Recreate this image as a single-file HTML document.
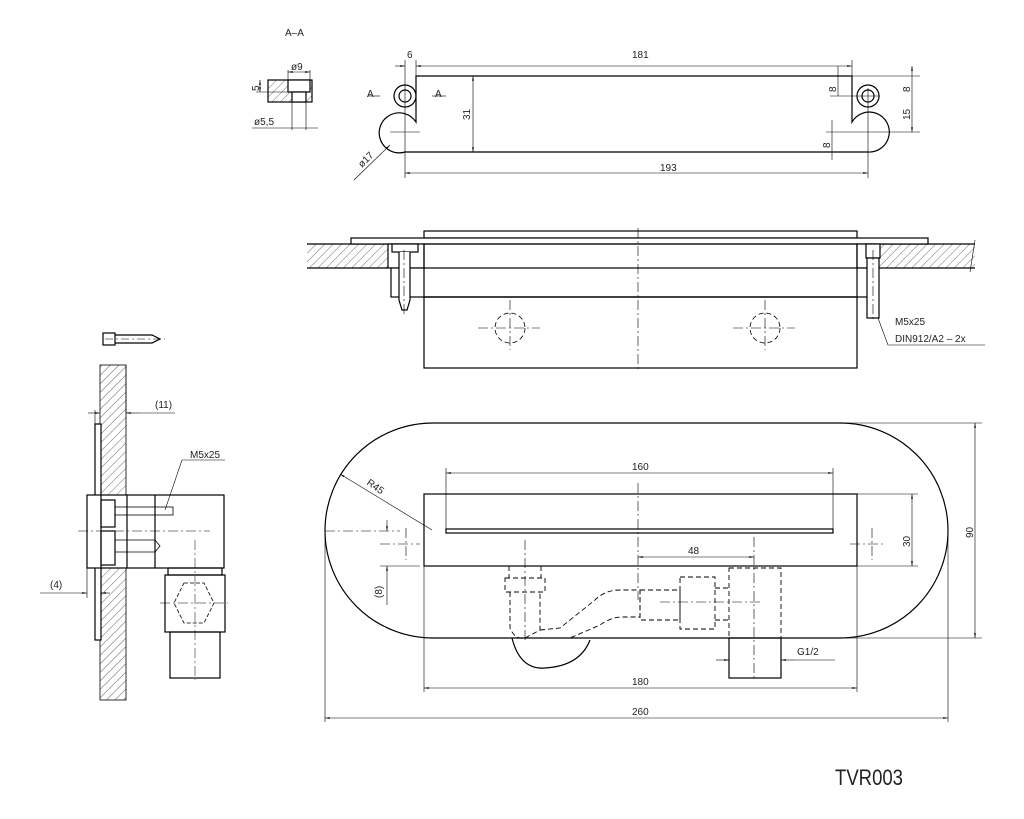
<!DOCTYPE html>
<html><head><meta charset="utf-8"><style>
html,body{margin:0;padding:0;background:#fff}
svg{display:block}
text{font-family:"Liberation Sans",sans-serif;font-size:10px;fill:#222}
</style></head><body>
<svg width="1024" height="819" viewBox="0 0 1024 819" xmlns="http://www.w3.org/2000/svg">
<defs>
<pattern id="h" width="6" height="6" patternUnits="userSpaceOnUse" patternTransform="rotate(45)">
<line x1="0" y1="0" x2="0" y2="6" stroke="#444" stroke-width="0.8"/></pattern>
<marker id="a" markerWidth="8" markerHeight="6" refX="8" refY="3" orient="auto-start-reverse"><path d="M0,1.5 L8,3 L0,4.5z" fill="#000"/></marker>
</defs>
<g stroke="#000" fill="none" stroke-width="1.2">

<!-- A-A section -->
<rect x="268" y="80" width="44" height="22" fill="url(#h)"/>
<rect x="288" y="80" width="22" height="12" fill="#fff"/>
<rect x="292" y="92" width="14" height="10" fill="#fff"/>
<g stroke-width="0.6">
<line x1="288" y1="72" x2="310" y2="72" marker-start="url(#a)" marker-end="url(#a)"/>
<line x1="288" y1="70" x2="288" y2="80"/><line x1="310" y1="70" x2="310" y2="80"/>
<line x1="260" y1="80" x2="260" y2="92" marker-start="url(#a)" marker-end="url(#a)"/>
<line x1="256" y1="92" x2="288" y2="92"/>
<line x1="252" y1="128" x2="318" y2="128"/>
<line x1="292" y1="102" x2="292" y2="130"/><line x1="306" y1="102" x2="306" y2="130"/>
</g>

<!-- top plate view -->
<path d="M416,76 L852,76 L852,122 A20,20 0 1 1 868,152 L405,152 A20,20 0 1 1 416,122 Z"/>
<circle cx="405" cy="96" r="11"/><circle cx="405" cy="96" r="6"/>
<circle cx="868" cy="96" r="11"/><circle cx="868" cy="96" r="6"/>
<g stroke-width="0.6">
<line x1="473" y1="76" x2="473" y2="152" marker-start="url(#a)" marker-end="url(#a)"/>
<line x1="416" y1="66" x2="852" y2="66" marker-start="url(#a)" marker-end="url(#a)"/>
<line x1="395" y1="66" x2="405" y2="66" marker-end="url(#a)"/>
<line x1="405" y1="60" x2="405" y2="178"/><line x1="416" y1="60" x2="416" y2="76"/>
<line x1="852" y1="60" x2="852" y2="76"/><line x1="868" y1="88" x2="868" y2="178"/>
<line x1="405" y1="173" x2="868" y2="173" marker-start="url(#a)" marker-end="url(#a)"/>
<line x1="368" y1="96" x2="380" y2="96"/><line x1="432" y1="96" x2="446" y2="96"/>
<line x1="390" y1="132" x2="420" y2="132"/>
<line x1="838" y1="66" x2="838" y2="96" /><line x1="830" y1="96" x2="880" y2="96"/>
<line x1="852" y1="76" x2="920" y2="76"/><line x1="868" y1="132" x2="920" y2="132"/>
<line x1="912" y1="66" x2="912" y2="132" marker-start="url(#a)" marker-end="url(#a)"/>
<line x1="832" y1="120" x2="832" y2="160"/><line x1="826" y1="132" x2="868" y2="132"/>
<line x1="354" y1="180" x2="390" y2="145" marker-end="url(#a)"/>
</g>

<!-- middle section view -->
<rect x="307" y="244" width="81" height="24" fill="url(#h)" stroke="none"/>
<rect x="858" y="244" width="117" height="24" fill="url(#h)" stroke="none"/>
<line x1="307" y1="244" x2="388" y2="244"/><line x1="307" y1="268" x2="388" y2="268"/>
<line x1="858" y1="244" x2="975" y2="244"/><line x1="858" y1="268" x2="975" y2="268"/>
<line x1="975" y1="240" x2="970" y2="272" stroke-width="0.6"/>
<rect x="424" y="231" width="433" height="7" fill="#fff"/>
<rect x="351" y="238" width="577" height="6" fill="#fff"/>
<rect x="388" y="244" width="36" height="24" fill="#fff"/>
<rect x="857" y="244" width="18" height="24" fill="#fff"/>
<rect x="391" y="268" width="487" height="29" fill="#fff"/>
<rect x="424" y="244" width="433" height="53"/>
<rect x="424" y="297" width="433" height="71"/>
<rect x="392" y="244" width="26" height="8" fill="#fff"/>
<path d="M399,252 V300 L402,310 H407 L410,300 V252" fill="#fff"/>
<rect x="866" y="244" width="14" height="14" fill="#fff"/>
<rect x="867" y="258" width="12" height="60" fill="#fff"/>
<g stroke-width="0.6" stroke-dasharray="10,3,2,3">
<line x1="638" y1="228" x2="638" y2="372"/>
<line x1="404" y1="250" x2="404" y2="314"/><line x1="873" y1="250" x2="873" y2="320"/>
<line x1="510" y1="300" x2="510" y2="350"/><line x1="478" y1="328" x2="540" y2="328"/>
<line x1="765" y1="300" x2="765" y2="350"/><line x1="733" y1="328" x2="795" y2="328"/>
</g>
<g stroke-width="0.8" stroke-dasharray="5,3">
<circle cx="510" cy="328" r="15"/><circle cx="765" cy="328" r="15"/></g>
<polyline points="878,318 888,345 985,345" stroke-width="0.6"/>

<!-- left side view -->
<rect x="103" y="333" width="12" height="12"/>
<path d="M115,335 H152 L160,339 L152,343 H115" />
<line x1="105" y1="339" x2="165" y2="339" stroke-width="0.5" stroke-dasharray="8,3,2,3"/>
<rect x="100" y="365" width="26" height="335" fill="url(#h)" stroke-width="0.8"/>
<rect x="95" y="424" width="6" height="216" fill="#fff"/>
<rect x="87" y="495" width="137" height="73" fill="#fff"/>
<line x1="101" y1="495" x2="101" y2="568"/>
<line x1="127" y1="495" x2="127" y2="568"/><line x1="155" y1="495" x2="155" y2="568"/>
<rect x="101" y="500" width="14" height="27"/><rect x="101" y="531" width="14" height="34"/>
<rect x="115" y="507" width="58" height="8" stroke-width="0.8"/>
<path d="M115,540 H155 L160,546 L155,552 H115" stroke-width="0.8"/>
<rect x="165" y="575" width="60" height="57"/>
<rect x="168" y="568" width="54" height="7"/>
<polygon points="184,583 204,583 214,603 204,623 184,623 174,603" stroke-width="0.8" stroke-dasharray="4,2"/>
<rect x="170" y="632" width="50" height="46"/>
<g stroke-width="0.5" stroke-dasharray="10,3,2,3">
<line x1="78" y1="531" x2="210" y2="531"/><line x1="195" y1="540" x2="195" y2="680"/><line x1="160" y1="603" x2="228" y2="603"/>
</g>
<g stroke-width="0.6">
<line x1="95" y1="410" x2="95" y2="424"/><line x1="126" y1="365" x2="126" y2="413"/>
<line x1="88" y1="413" x2="100" y2="413" marker-end="url(#a)"/>
<line x1="140" y1="413" x2="126" y2="413" marker-end="url(#a)"/>
<line x1="140" y1="413" x2="175" y2="413"/>
<line x1="40" y1="593" x2="87" y2="593" marker-end="url(#a)"/>
<line x1="110" y1="593" x2="101" y2="593" marker-end="url(#a)"/>
<line x1="87" y1="568" x2="87" y2="598"/>
<polyline points="165,510 182,460 225,460"/>
</g>

<!-- bottom plan view -->
<path d="M433,423 H840 A108,107.5 0 0 1 840,638 H433 A108,107.5 0 0 1 433,423 Z"/>
<rect x="424" y="494" width="433" height="72"/>
<rect x="446" y="529" width="387" height="4"/>
<rect x="729" y="638" width="52" height="40"/>
<path d="M512,638 Q520,670 545,668 Q580,666 590,640" />
<g stroke-width="0.9" stroke-dasharray="5,3">
<rect x="505" y="578" width="40" height="14"/>
<line x1="509" y1="566" x2="509" y2="578"/><line x1="541" y1="566" x2="541" y2="578"/>
<path d="M510,592 V628 Q515,640 525,638 L540,630 V592"/>
<path d="M540,630 L560,628 L595,600 Q605,590 620,590 H640 V617 H620 Q610,618 600,625 L570,638"/>
<rect x="640" y="590" width="40" height="30"/>
<rect x="680" y="577" width="35" height="52"/>
<rect x="729" y="568" width="52" height="70"/>
<line x1="715" y1="588" x2="729" y2="588"/><line x1="715" y1="620" x2="729" y2="620"/>
</g>
<g stroke-width="0.6" stroke-dasharray="10,3,2,3">
<line x1="638" y1="483" x2="638" y2="600"/><line x1="754" y1="537" x2="754" y2="680"/>
<line x1="525" y1="540" x2="525" y2="640"/><line x1="660" y1="602" x2="760" y2="602"/>
<line x1="325" y1="531" x2="400" y2="531"/><line x1="380" y1="544" x2="420" y2="544"/>
<line x1="406" y1="528" x2="406" y2="560"/>
<line x1="850" y1="544" x2="885" y2="544"/><line x1="872" y1="528" x2="872" y2="560"/>
</g>
<g stroke-width="0.6">
<line x1="446" y1="473" x2="833" y2="473" marker-start="url(#a)" marker-end="url(#a)"/>
<line x1="446" y1="468" x2="446" y2="529"/><line x1="833" y1="468" x2="833" y2="529"/>
<line x1="638" y1="557" x2="754" y2="557" marker-start="url(#a)" marker-end="url(#a)"/>
<line x1="857" y1="494" x2="918" y2="494"/><line x1="857" y1="566" x2="918" y2="566"/>
<line x1="912" y1="494" x2="912" y2="566" marker-start="url(#a)" marker-end="url(#a)"/>
<line x1="840" y1="423" x2="982" y2="423"/><line x1="840" y1="638" x2="982" y2="638"/>
<line x1="975" y1="423" x2="975" y2="638" marker-start="url(#a)" marker-end="url(#a)"/>
<line x1="424" y1="566" x2="424" y2="692"/><line x1="857" y1="566" x2="857" y2="692"/>
<line x1="424" y1="688" x2="857" y2="688" marker-start="url(#a)" marker-end="url(#a)"/>
<line x1="325" y1="530" x2="325" y2="722"/><line x1="948" y1="530" x2="948" y2="722"/>
<line x1="325" y1="718" x2="948" y2="718" marker-start="url(#a)" marker-end="url(#a)"/>
<line x1="432" y1="530" x2="340" y2="474" marker-end="url(#a)"/>
<line x1="380" y1="566" x2="420" y2="566"/>
<line x1="387" y1="520" x2="387" y2="531" marker-end="url(#a)"/>
<line x1="387" y1="578" x2="387" y2="566" marker-end="url(#a)"/>
<line x1="387" y1="578" x2="387" y2="605"/>
<line x1="716" y1="660" x2="729" y2="660" marker-end="url(#a)"/>
<line x1="795" y1="660" x2="781" y2="660" marker-end="url(#a)"/>
<line x1="795" y1="660" x2="835" y2="660"/>
</g>
</g>

<!-- texts -->
<text x="285" y="36">A–A</text>
<text x="291" y="70" font-size="9">ø9</text>
<text transform="translate(259,91) rotate(-90)" font-size="9">5</text>
<text x="254" y="125" font-size="9">ø5,5</text>
<text x="367" y="97" font-size="9">A</text><text x="435" y="97" font-size="9">A</text>
<text x="407" y="58" font-size="9">6</text>
<text x="632" y="58">181</text>
<text x="660" y="171">193</text>
<text transform="translate(470,120) rotate(-90)">31</text>
<text transform="translate(836,92) rotate(-90)" font-size="9">8</text>
<text transform="translate(910,92) rotate(-90)" font-size="9">8</text>
<text transform="translate(910,120) rotate(-90)" font-size="9">15</text>
<text transform="translate(830,148) rotate(-90)" font-size="9">8</text>
<text transform="translate(362,168) rotate(-45)" font-size="9">ø17</text>
<text x="895" y="325">M5x25</text>
<text x="895" y="342">DIN912/A2 – 2x</text>
<text x="155" y="408">(11)</text>
<text x="190" y="458">M5x25</text>
<text x="50" y="588">(4)</text>
<text x="632" y="470">160</text>
<text transform="translate(366,484) rotate(35)">R45</text>
<text x="688" y="554">48</text>
<text transform="translate(910,547) rotate(-90)">30</text>
<text transform="translate(973,538) rotate(-90)">90</text>
<text transform="translate(382,598) rotate(-90)">(8)</text>
<text x="797" y="655">G1/2</text>
<text x="632" y="685">180</text>
<text x="632" y="715">260</text>
<text x="835" y="785" style="font-size:22px" textLength="68" lengthAdjust="spacingAndGlyphs">TVR003</text>
</svg>
</body></html>
